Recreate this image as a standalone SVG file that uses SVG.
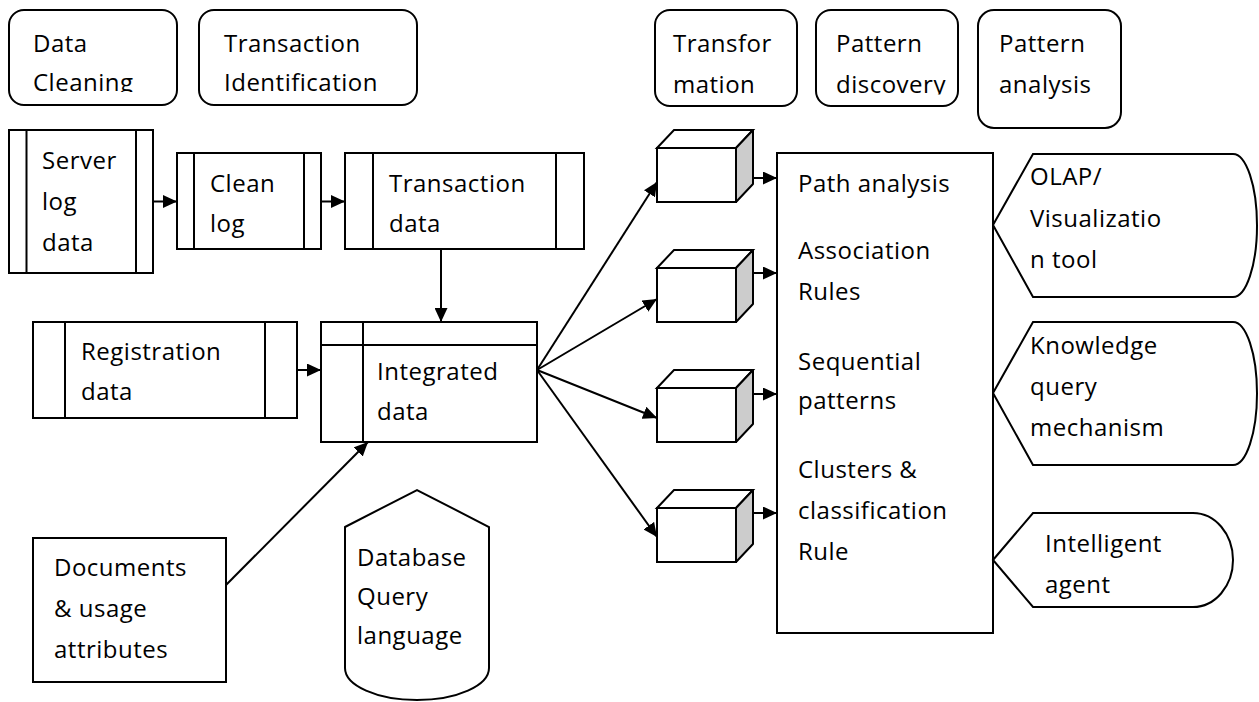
<svg xmlns="http://www.w3.org/2000/svg" width="1259" height="702" viewBox="0 0 1259 702">
<style>
.s{fill:#fff;stroke:#000;stroke-width:2}
.l{fill:none;stroke:#000;stroke-width:2}
.c{fill:none;stroke:#000;stroke-width:2}
.side{fill:#cccccc;stroke:#000;stroke-width:2;stroke-linejoin:round}
text{font-family:"Open Sans","Liberation Sans",sans-serif;font-size:24px;letter-spacing:0.5px;fill:#000}
</style>
<defs>
<marker id="ah" markerWidth="14" markerHeight="13" refX="14" refY="6.5" orient="auto" markerUnits="userSpaceOnUse"><path d="M0,0 L14,6.5 L0,13 z" fill="#000"/></marker>
<clipPath id="clipA"><rect x="0" y="0" width="640" height="92"/></clipPath>
<clipPath id="clipB"><rect x="640" y="0" width="340" height="94.5"/></clipPath>
</defs>
<rect width="1259" height="702" fill="#fff"/>

<g id="data-cleaning">
<rect class="s" x="9" y="10" width="168" height="95" rx="15"/>
<g clip-path="url(#clipA)"><text x="33" y="52">Data</text><text x="33" y="91">Cleaning</text></g>
</g>
<g id="transaction-identification">
<rect class="s" x="199" y="10" width="218" height="95" rx="15"/>
<g clip-path="url(#clipA)"><text x="224" y="52">Transaction</text><text x="224" y="91">Identification</text></g>
</g>
<g id="transformation">
<rect class="s" x="655" y="10" width="142" height="96" rx="15"/>
<g clip-path="url(#clipB)"><text x="673" y="52">Transfor</text><text x="673" y="93">mation</text></g>
</g>
<g id="pattern-discovery">
<rect class="s" x="816" y="10" width="142" height="96" rx="15"/>
<g clip-path="url(#clipB)"><text x="836" y="52">Pattern</text><text x="836" y="93">discovery</text></g>
</g>
<g id="pattern-analysis">
<rect class="s" x="978" y="10" width="143" height="118" rx="16"/>
<text x="999" y="52">Pattern</text><text x="999" y="93">analysis</text>
</g>

<g id="server-log-data">
<rect class="s" x="9" y="130" width="144" height="143"/>
<path class="l" d="M26.5,130V273M136,130V273"/>
<text x="42" y="169">Server</text><text x="42" y="210">log</text><text x="42" y="251">data</text>
</g>
<g id="clean-log">
<rect class="s" x="177" y="153" width="144" height="96"/>
<path class="l" d="M194,153V249M304,153V249"/>
<text x="210" y="192">Clean</text><text x="210" y="232">log</text>
</g>
<g id="transaction-data">
<rect class="s" x="345" y="153" width="239" height="96"/>
<path class="l" d="M373,153V249M556,153V249"/>
<text x="389" y="192">Transaction</text><text x="389" y="232">data</text>
</g>
<g id="registration-data">
<rect class="s" x="33" y="322" width="264" height="96"/>
<path class="l" d="M65,322V418M265,322V418"/>
<text x="81" y="360">Registration</text><text x="81" y="400">data</text>
</g>
<g id="integrated-data">
<rect class="s" x="321" y="322" width="216" height="120"/>
<path class="l" d="M321,345H537M363,322V442"/>
<text x="377" y="380">Integrated</text><text x="377" y="420">data</text>
</g>
<g id="documents">
<rect class="s" x="33" y="538" width="193" height="144"/>
<text x="54" y="576">Documents</text><text x="54" y="617">&amp; usage</text><text x="54" y="658">attributes</text>
</g>
<g id="database-query-language">
<path class="s" d="M345,527 L417,490 L489,527 L489,668 A72,32 0 0 1 345,668 Z"/>
<text x="357" y="566">Database</text><text x="357" y="605">Query</text><text x="357" y="644">language</text>
</g>

<g id="cube-1">
<rect class="s" x="657" y="148" width="79" height="54"/>
<path class="s" d="M657,148 L674,130 L753,130 L736,148 Z"/>
<path class="side" d="M736,148 L753,130 L753,184 L736,202 Z"/>
</g>
<g id="cube-2">
<rect class="s" x="657" y="268" width="79" height="54"/>
<path class="s" d="M657,268 L674,250 L753,250 L736,268 Z"/>
<path class="side" d="M736,268 L753,250 L753,304 L736,322 Z"/>
</g>
<g id="cube-3">
<rect class="s" x="657" y="388" width="79" height="54"/>
<path class="s" d="M657,388 L674,370 L753,370 L736,388 Z"/>
<path class="side" d="M736,388 L753,370 L753,424 L736,442 Z"/>
</g>
<g id="cube-4">
<rect class="s" x="657" y="508" width="79" height="54"/>
<path class="s" d="M657,508 L674,490 L753,490 L736,508 Z"/>
<path class="side" d="M736,508 L753,490 L753,544 L736,562 Z"/>
</g>

<g id="pattern-box">
<rect class="s" x="777" y="153" width="216" height="480"/>
<text x="798" y="192">Path analysis</text>
<text x="798" y="259">Association</text><text x="798" y="300">Rules</text>
<text x="798" y="370">Sequential</text><text x="798" y="409">patterns</text>
<text x="798" y="478">Clusters &amp;</text><text x="798" y="519">classification</text><text x="798" y="560">Rule</text>
</g>

<g id="olap-visualization">
<path class="s" d="M993,225 L1033,154 L1233,154 A24,71.5 0 0 1 1233,297 L1033,297 Z"/>
<text x="1030" y="185">OLAP/</text><text x="1030" y="227">Visualizatio</text><text x="1030" y="268">n tool</text>
</g>
<g id="knowledge-query">
<path class="s" d="M993,393 L1033,322 L1233,322 A24,71.5 0 0 1 1233,465 L1033,465 Z"/>
<text x="1030" y="354">Knowledge</text><text x="1030" y="395">query</text><text x="1030" y="436">mechanism</text>
</g>
<g id="intelligent-agent">
<path class="s" d="M993,560 L1033,513 L1193,513 A40,47 0 0 1 1193,607 L1033,607 Z"/>
<text x="1045" y="552">Intelligent</text><text x="1045" y="593">agent</text>
</g>

<g id="connectors">
<line class="c" x1="153" y1="201.5" x2="177" y2="201.5" marker-end="url(#ah)"/>
<line class="c" x1="321" y1="201.5" x2="345" y2="201.5" marker-end="url(#ah)"/>
<line class="c" x1="441" y1="249" x2="441" y2="322" marker-end="url(#ah)"/>
<line class="c" x1="297" y1="370" x2="321" y2="370" marker-end="url(#ah)"/>
<line class="c" x1="226" y1="585" x2="368" y2="442" marker-end="url(#ah)"/>
<line class="c" x1="537" y1="370" x2="657" y2="182" marker-end="url(#ah)"/>
<line class="c" x1="537" y1="370" x2="657" y2="299" marker-end="url(#ah)"/>
<line class="c" x1="537" y1="370" x2="657" y2="418" marker-end="url(#ah)"/>
<line class="c" x1="537" y1="370" x2="657" y2="537" marker-end="url(#ah)"/>
<line class="c" x1="753" y1="178" x2="777" y2="178" marker-end="url(#ah)"/>
<line class="c" x1="753" y1="273" x2="777" y2="273" marker-end="url(#ah)"/>
<line class="c" x1="753" y1="394" x2="777" y2="394" marker-end="url(#ah)"/>
<line class="c" x1="753" y1="513" x2="777" y2="513" marker-end="url(#ah)"/>
</g>
</svg>
